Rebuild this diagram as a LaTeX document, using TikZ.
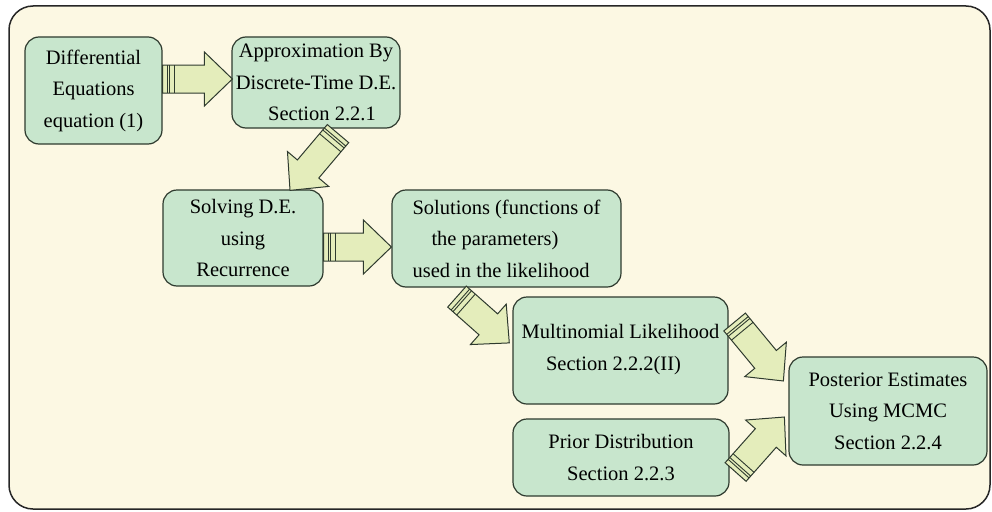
\documentclass[tikz,border=0pt]{standalone}
\usepackage{fontspec}
\setmainfont{Liberation Serif}
\usetikzlibrary{calc}
\definecolor{bgcream}{HTML}{FCF8E3}
\definecolor{boxgreen}{HTML}{C8E6CD}
\definecolor{arrowfill}{HTML}{E4EDBB}
\definecolor{edgecol}{HTML}{2E3A2E}
\tikzset{
  box/.style={draw=edgecol, line width=1.2pt, fill=boxgreen, rounded corners=14pt,
    align=center, font=\fontsize{20.5}{31.5}\selectfont, inner sep=0pt},
  arrowbody/.style={draw=edgecol, line width=1pt, fill=arrowfill, line join=miter},
  stripe/.style={draw=edgecol, line width=0.9pt},
}
\newcommand\blockarrow[2]{%
  \path let \p1=($(#2)-(#1)$), \n1={atan2(\y1,\x1)}, \n2={veclen(\x1,\y1)} in
    \pgfextra{\xdef\baang{\n1}\xdef\balen{\n2}};
  \begin{scope}[shift={(#1)}, rotate=\baang]
    \draw[arrowbody] (0,-14) -- ({\balen-28},-14) -- ({\balen-28},-27) -- ({\balen},0)
      -- ({\balen-28},27) -- ({\balen-28},14) -- (0,14) -- cycle;
    \draw[stripe] (4.5,-14) -- (4.5,14) (7,-14) -- (7,14) (12,-14) -- (12,14);
  \end{scope}
}
\begin{document}
\begin{tikzpicture}[x=1pt,y=-1pt]
\useasboundingbox (0,0) rectangle (992,511);
\draw[fill=bgcream, draw=black!85, line width=1.5pt, rounded corners=24pt] (9,6) rectangle (990,509);

\node[box, minimum width=137pt, minimum height=107pt] (b1) at (93.5,90.5)
  {Differential\\Equations\\equation (1)};
\node[box, minimum width=168pt, minimum height=91pt] (b2) at (316,82.5)
  {Approximation By\\Discrete-Time D.E.\\\hspace*{12pt}Section 2.2.1};
\node[box, minimum width=160pt, minimum height=96pt] (b3) at (243,238)
  {Solving D.E.\\using\hspace*{18pt}\\Recurrence};
\node[box, align=left, minimum width=229pt, minimum height=97pt] (b4) at (506.5,238.5)
  {Solutions (functions of\\\hspace*{19pt}the parameters)\\used in the likelihood};
\node[box, minimum width=215pt, minimum height=107pt] (b5) at (620.5,350.5)
  {Multinomial Likelihood\\\hspace*{-14pt}Section 2.2.2(II)\\[-25pt]\mbox{}};
\node[box, minimum width=216pt, minimum height=77pt] (b6) at (621,457.5)
  {Prior Distribution\\Section 2.2.3};
\node[box, minimum width=198pt, minimum height=108pt] (b7) at (888,411)
  {Posterior Estimates\\Using MCMC\\Section 2.2.4};

\coordinate (t1) at ($(b1.east)+(0,-11.5)$);
\coordinate (h1) at ($(b2.west)+(1,-3.5)$);
\coordinate (t2) at ($(b2.south)+(22,5)$);
\coordinate (h2) at ($(b3.north)+(47,1)$);
\coordinate (t3) at ($(b3.east)+(0,9)$);
\coordinate (h3) at ($(b4.west)+(0,8.5)$);
\coordinate (t4) at ($(b4.south)+(-49.5,9)$);
\coordinate (h4) at ($(b5.west)+(-3,-7.5)$);
\coordinate (t5) at ($(b5.east)+(6,-28.5)$);
\coordinate (h5) at ($(b7.west)+(-5,-30)$);
\coordinate (t6) at ($(b6.east)+(6,14.5)$);
\coordinate (h6) at ($(b7.west)+(-4,6)$);

\blockarrow{t1}{h1}
\blockarrow{t2}{h2}
\blockarrow{t3}{h3}
\blockarrow{t4}{h4}
\blockarrow{t5}{h5}
\blockarrow{t6}{h6}
\end{tikzpicture}
\end{document}
